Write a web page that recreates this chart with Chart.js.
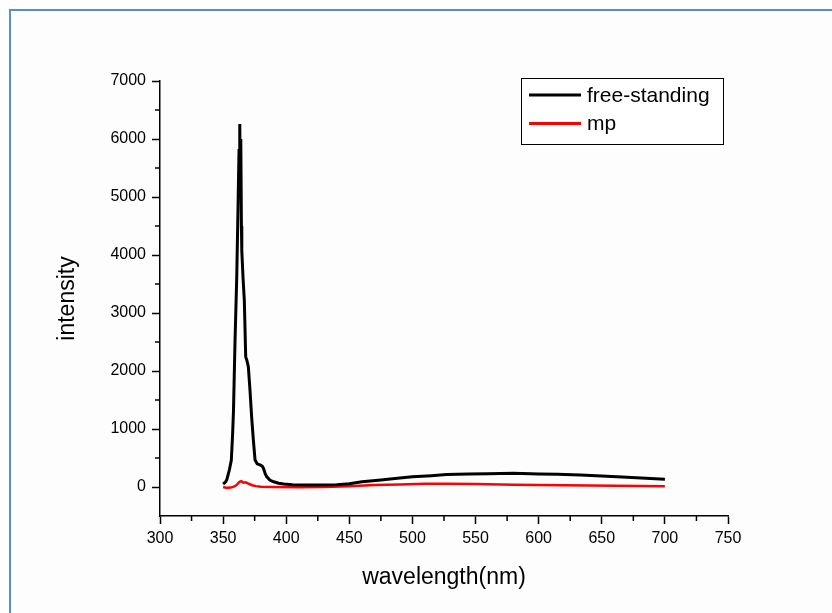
<!DOCTYPE html>
<html lang="en">
<head>
    <meta charset="UTF-8">
    <title>Spectrum</title>
    <script src="https://cdn.jsdelivr.net/npm/chart.js"></script>
    <style>
        html, body {
            margin: 0;
            padding: 0;
            background: #ffffff;
            overflow: hidden;
        }
        .frame {
            position: absolute;
            left: 9px;
            top: 9px;
            width: 840px;
            height: 620px;
            border-left: 2px solid #5b8bd3;
            border-top: 2px solid #5b8bd3;
            background: #fdfdfd;
        }
        .wrap {
            position: absolute;
            left: 0;
            top: 0;
            width: 832px;
            height: 613px;
        }
    </style>
</head>
<body>
    <div class="frame"></div>
    <div class="wrap"><canvas id="spectrumChart" width="832" height="613"></canvas></div>
    <script>
        // free-standing film
        const freeWl = [350, 352, 353, 355, 356.5, 357.5, 358.2, 359.4, 360.8, 361.8, 362.6, 363.2, 363.6, 364.0, 364.5,
            364.8, 365.8, 366.8, 367.9, 368.6, 369.2, 370, 371.2, 372.6, 374, 375.3, 377, 379.2, 381, 382, 383.5,
            384.5, 387, 390, 394, 398, 405, 420, 440, 450, 460, 475, 490, 500, 515, 527, 545, 560, 580, 600,
            615, 633, 650, 670, 685, 700];
        const freeVal = [50, 90, 130, 300, 460, 900, 1300, 2480, 3620, 4800, 5800, 6260, 5200, 6000, 4500,
            4080, 3600, 3220, 2240, 2200, 2150, 2070, 1700, 1210, 800, 465, 400, 380, 360, 320, 220,
            180, 120, 90, 65, 50, 40, 35, 40, 55, 90, 120, 155, 175, 195, 215, 225, 230, 235, 225,
            220, 206, 190, 170, 150, 135];

        // mp
        const mpWl = [350, 353, 356, 359, 361, 363, 364.5, 366, 368, 370, 373, 376, 380, 390, 410, 430, 450, 470,
            490, 510, 527, 550, 580, 620, 660, 700];
        const mpVal = [0, -15, -10, 10, 40, 90, 100, 75, 80, 60, 30, 15, 5, 0, -5, 0, 15, 35,
            45, 55, 55, 50, 40, 30, 20, 15];

        const xTicks = [300, 350, 400, 450, 500, 550, 600, 650, 700, 750];
        const yTicks = [0, 1000, 2000, 3000, 4000, 5000, 6000, 7000];

        function toPoints(xs, ys) {
            return xs.map((x, i) => ({x: x, y: ys[i]}));
        }

        // minor ticks halfway between the labelled ones
        const minorTicks = {
            id: 'minorTicks',
            afterDraw(chart) {
                const ctx = chart.ctx;
                const xs = chart.scales.x, ys = chart.scales.y;
                ctx.save();
                ctx.strokeStyle = '#000';
                ctx.lineWidth = 1.5;
                ctx.beginPath();
                for (let i = 0; i < xTicks.length - 1; i++) {
                    const px = xs.getPixelForValue((xTicks[i] + xTicks[i + 1]) / 2);
                    ctx.moveTo(px, xs.top);
                    ctx.lineTo(px, xs.top + 5);
                }
                for (let i = 0; i < yTicks.length - 1; i++) {
                    const py = ys.getPixelForValue((yTicks[i] + yTicks[i + 1]) / 2);
                    ctx.moveTo(ys.right, py);
                    ctx.lineTo(ys.right - 5, py);
                }
                ctx.stroke();
                ctx.restore();
            }
        };

        // boxed legend inside the plot, top right
        const boxLegend = {
            id: 'boxLegend',
            afterDraw(chart) {
                const ctx = chart.ctx;
                const area = chart.chartArea;
                const w = 202, h = 66;
                const left = area.right - 5 - w;
                const top = area.top - 3;
                ctx.save();
                ctx.fillStyle = '#ffffff';
                ctx.fillRect(left, top, w, h);
                ctx.strokeStyle = '#000';
                ctx.lineWidth = 1;
                ctx.strokeRect(left + 0.5, top + 0.5, w, h);
                ctx.font = '21px "Liberation Sans", Arial, sans-serif';
                ctx.textBaseline = 'middle';
                chart.data.datasets.forEach((ds, i) => {
                    const y = top + 17 + i * 28.5;
                    ctx.strokeStyle = ds.borderColor;
                    ctx.lineWidth = 3;
                    ctx.beginPath();
                    ctx.moveTo(left + 8, y);
                    ctx.lineTo(left + 60, y);
                    ctx.stroke();
                    ctx.fillStyle = '#000';
                    ctx.fillText(ds.label, left + 66, y + 1);
                });
                ctx.restore();
            }
        };

        const spectrumChart = new Chart(document.getElementById('spectrumChart'), {
            type: 'line',
            data: {
                datasets: [{
                    label: 'free-standing',
                    data: toPoints(freeWl, freeVal),
                    borderColor: '#000000',
                    borderWidth: 3,
                    pointRadius: 0,
                    tension: 0
                }, {
                    label: 'mp',
                    data: toPoints(mpWl, mpVal),
                    borderColor: '#ff0000',
                    borderWidth: 2.5,
                    pointRadius: 0,
                    tension: 0
                }]
            },
            options: {
                responsive: false,
                animation: false,
                layout: {
                    padding: {left: 0, right: 104, top: 81, bottom: 0}
                },
                plugins: {
                    legend: {display: false},
                    tooltip: {enabled: false}
                },
                scales: {
                    x: {
                        type: 'linear',
                        min: 300,
                        max: 750,
                        afterBuildTicks: (s) => { s.ticks = xTicks.map(v => ({value: v})); },
                        afterFit: (s) => { s.height = 97; },
                        border: {display: true, color: '#000', width: 1.5},
                        grid: {drawOnChartArea: false, drawTicks: true, tickLength: 8, tickColor: '#000', tickWidth: 1.5},
                        ticks: {
                            color: '#000',
                            padding: 5,
                            maxRotation: 0,
                            callback: (v) => String(v),
                            font: {family: '"Liberation Sans", Arial, sans-serif', size: 16}
                        },
                        title: {
                            display: true,
                            text: 'wavelength(nm)',
                            color: '#000',
                            padding: {top: 0, bottom: 22},
                            font: {family: '"Liberation Sans", Arial, sans-serif', size: 23}
                        }
                    },
                    y: {
                        min: -500,
                        max: 7000,
                        afterBuildTicks: (s) => { s.ticks = yTicks.map(v => ({value: v})); },
                        afterFit: (s) => { s.width = 160; },
                        border: {display: true, color: '#000', width: 1.5},
                        grid: {drawOnChartArea: false, drawTicks: true, tickLength: 8, tickColor: '#000', tickWidth: 1.5},
                        ticks: {
                            color: '#000',
                            padding: 6,
                            callback: (v) => String(v),
                            font: {family: '"Liberation Sans", Arial, sans-serif', size: 16}
                        },
                        title: {
                            display: true,
                            text: 'intensity',
                            color: '#000',
                            padding: {top: 54, bottom: 0},
                            font: {family: '"Liberation Sans", Arial, sans-serif', size: 23}
                        }
                    }
                }
            },
            plugins: [minorTicks, boxLegend]
        });
    </script>
</body>
</html>
